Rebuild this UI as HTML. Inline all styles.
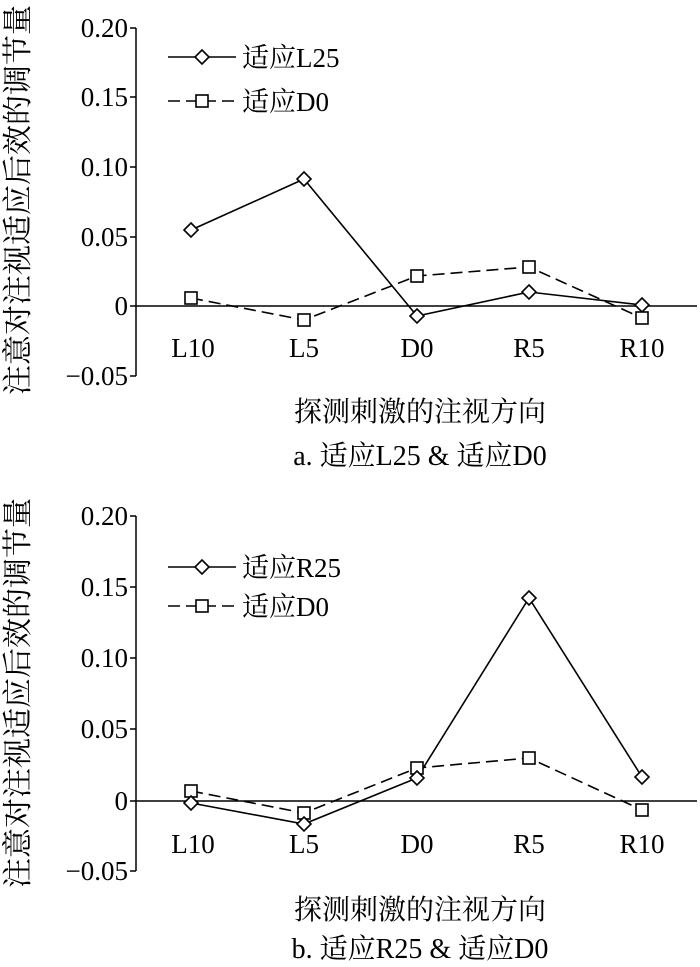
<!DOCTYPE html>
<html><head><meta charset="utf-8"><style>
html,body{margin:0;padding:0;background:#fff;}
svg{display:block;}
text{font-family:"Liberation Serif","Noto Serif CJK SC","Noto Sans CJK SC",serif;fill:#000;}
</style></head><body>
<svg width="700" height="967" viewBox="0 0 700 967" xmlns="http://www.w3.org/2000/svg">
<defs>
<g id="dia"><polygon points="0,-7 7,0 0,7 -7,0" fill="#fff" stroke="#000" stroke-width="1.6"/></g>
<g id="sq"><rect x="-6" y="-6" width="12" height="12" fill="#fff" stroke="#000" stroke-width="1.6"/></g>
</defs>
<!-- Top chart -->
<g font-size="27">
<line x1="136" y1="28" x2="136" y2="376" stroke="#000" stroke-width="1.5"/>
<line x1="136" y1="306" x2="697" y2="306" stroke="#000" stroke-width="1.5"/>
<g stroke="#000" stroke-width="1.5">
<line x1="130" y1="28" x2="136" y2="28"/><line x1="130" y1="97" x2="136" y2="97"/><line x1="130" y1="167" x2="136" y2="167"/><line x1="130" y1="237" x2="136" y2="237"/><line x1="130" y1="306" x2="136" y2="306"/><line x1="130" y1="376" x2="136" y2="376"/>
</g>
<g text-anchor="end">
<text x="128" y="37">0.20</text><text x="128" y="106">0.15</text><text x="128" y="176">0.10</text><text x="128" y="246">0.05</text><text x="128" y="315">0</text><text x="128" y="385">−0.05</text>
</g>
<g text-anchor="middle">
<text x="193" y="357">L10</text><text x="304" y="357">L5</text><text x="417" y="357">D0</text><text x="529" y="357">R5</text><text x="642" y="357">R10</text>
<text x="420" y="421" font-size="28">探测刺激的注视方向</text>
<text x="420" y="465" font-size="28">a. 适应L25 &amp; 适应D0</text>
</g>
<text transform="translate(28,200) rotate(-90)" text-anchor="middle" font-size="30">注意对注视适应后效的调节量</text>
<polyline points="191,230 304,179 417,316 529,292 642,305" fill="none" stroke="#000" stroke-width="1.6"/>
<polyline points="191,298 304,320 417,276 529,267 642,318" fill="none" stroke="#000" stroke-width="1.6" stroke-dasharray="12,6"/>
<use href="#dia" x="191" y="230"/><use href="#dia" x="304" y="179"/><use href="#dia" x="417" y="316"/><use href="#dia" x="529" y="292"/><use href="#dia" x="642" y="305"/>
<use href="#sq" x="191" y="298"/><use href="#sq" x="304" y="320"/><use href="#sq" x="417" y="276"/><use href="#sq" x="529" y="267"/><use href="#sq" x="642" y="318"/>
<line x1="168" y1="57" x2="236" y2="57" stroke="#000" stroke-width="1.6"/><use href="#dia" x="202" y="57"/>
<line x1="168" y1="101" x2="236" y2="101" stroke="#000" stroke-width="1.6" stroke-dasharray="12,6"/><use href="#sq" x="202" y="101"/>
<text x="242" y="67">适应L25</text><text x="242" y="111">适应D0</text>
</g>
<!-- Bottom chart -->
<g font-size="27">
<line x1="136" y1="516" x2="136" y2="871" stroke="#000" stroke-width="1.5"/>
<line x1="136" y1="801" x2="697" y2="801" stroke="#000" stroke-width="1.5"/>
<g stroke="#000" stroke-width="1.5">
<line x1="130" y1="516" x2="136" y2="516"/><line x1="130" y1="587" x2="136" y2="587"/><line x1="130" y1="658" x2="136" y2="658"/><line x1="130" y1="729" x2="136" y2="729"/><line x1="130" y1="801" x2="136" y2="801"/><line x1="130" y1="871" x2="136" y2="871"/>
</g>
<g text-anchor="end">
<text x="128" y="525">0.20</text><text x="128" y="596">0.15</text><text x="128" y="667">0.10</text><text x="128" y="738">0.05</text><text x="128" y="810">0</text><text x="128" y="880">−0.05</text>
</g>
<g text-anchor="middle">
<text x="193" y="853">L10</text><text x="304" y="853">L5</text><text x="417" y="853">D0</text><text x="529" y="853">R5</text><text x="642" y="853">R10</text>
<text x="420" y="919" font-size="28">探测刺激的注视方向</text>
<text x="420" y="958" font-size="28">b. 适应R25 &amp; 适应D0</text>
</g>
<text transform="translate(28,693) rotate(-90)" text-anchor="middle" font-size="30">注意对注视适应后效的调节量</text>
<polyline points="191,803 304,824 417,778 529,598 642,777" fill="none" stroke="#000" stroke-width="1.6"/>
<polyline points="191,791 304,813 417,768 529,758 642,810" fill="none" stroke="#000" stroke-width="1.6" stroke-dasharray="12,6"/>
<use href="#sq" x="191" y="791"/><use href="#sq" x="304" y="813"/><use href="#sq" x="417" y="768"/><use href="#sq" x="529" y="758"/><use href="#sq" x="642" y="810"/>
<use href="#dia" x="191" y="803"/><use href="#dia" x="304" y="824"/><use href="#dia" x="417" y="778"/><use href="#dia" x="529" y="598"/><use href="#dia" x="642" y="777"/>
<line x1="168" y1="567" x2="236" y2="567" stroke="#000" stroke-width="1.6"/><use href="#dia" x="202" y="567"/>
<line x1="168" y1="606" x2="236" y2="606" stroke="#000" stroke-width="1.6" stroke-dasharray="12,6"/><use href="#sq" x="202" y="606"/>
<text x="242" y="577">适应R25</text><text x="242" y="616">适应D0</text>
</g>
</svg>
</body></html>
